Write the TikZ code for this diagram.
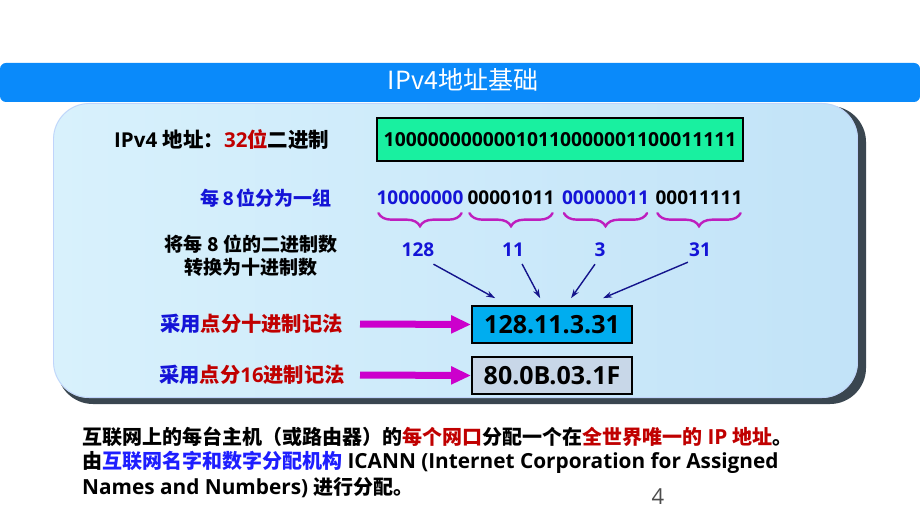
\documentclass[tikz,border=0pt]{standalone}
\usepackage{fontspec}
\setmainfont{Open Sans}
\newfontfamily\cjk{Noto Sans CJK SC}
\usetikzlibrary{arrows.meta,decorations.pathreplacing,calc}
\definecolor{barblue}{RGB}{10,138,250}
\definecolor{panelA}{RGB}{216,241,252}
\definecolor{panelB}{RGB}{194,227,248}
\definecolor{shadowc}{RGB}{58,70,80}
\definecolor{mint}{RGB}{25,240,160}
\definecolor{hexfill}{RGB}{200,215,232}
\definecolor{tblue}{RGB}{20,20,215}
\definecolor{bblue}{RGB}{30,30,255}
\definecolor{dred}{RGB}{192,0,0}
\definecolor{mag}{RGB}{204,0,204}
\definecolor{bracec}{RGB}{190,30,190}
\definecolor{navy}{RGB}{20,20,140}
\newcommand\C[1]{{\cjk\fontsize{20}{24}\selectfont #1}}
\begin{document}
\begin{tikzpicture}[x=1pt,y=-1pt,
  txt/.style={inner sep=0pt, font=\fontsize{19}{23}\selectfont\bfseries},
  btxt/.style={inner sep=0pt, anchor=west, font=\fontsize{20.8}{24}\selectfont\bfseries},
  valbox/.style={draw=black, line width=1.8pt, inner sep=0pt, minimum width=160pt, minimum height=37pt, font=\fontsize{25}{29}\selectfont\bfseries},
  grp/.style={txt},
  num/.style={txt, text=tblue},
  bracest/.style={draw=bracec, line width=2.4pt, line cap=round, decorate, decoration={brace, mirror, amplitude=13pt, aspect=0.5}},
  conv/.style={draw=navy, line width=1.4pt, -{Stealth[length=9pt,width=6pt]}},
  bigarr/.style={draw=mag, line width=7pt, -{Triangle[length=20pt,width=17pt]}}
]
\useasboundingbox (0,0) rectangle (920,518);
\fill[white] (0,0) rectangle (920,518);
% panel
\fill[shadowc, rounded corners=36pt] (57,106) rectangle (866,404);
\shade[left color=panelA, right color=panelB, rounded corners=36pt] (53,103) rectangle (858,398);
\draw[rounded corners=36pt, draw=panelB!85!blue!70, line width=0.8pt] (53.5,103.5) rectangle (857.5,397.5);
% title bar
\fill[barblue, rounded corners=6pt] (0,63) rectangle (920,102);
\node[inner sep=0pt, text=white, font=\fontsize{25}{28}\selectfont\cjk] (title) at (463,80) {IPv4地址基础};

% first row
\node[txt, anchor=west, font=\fontsize{20.5}{24}\selectfont\bfseries] (lab32) at (114,140) {IPv4 {\cjk 地址：}\textcolor{dred}{32{\cjk 位}}{\cjk 二进制}};
\node[valbox, fill=mint, minimum width=366pt, minimum height=43pt, font=\fontsize{19.3}{23}\selectfont\bfseries] (bin) at (560,139.5) {10000000000010110000001100011111};

% groups
\node[txt, anchor=east, text=tblue] (lab8) at (332,198) {{\cjk 每}\,8\,{\cjk 位分为一组}};
\node[grp, text=tblue] (g1) at (420,198) {10000000};
\node[grp] (g2) at (511,198) {00001011};
\node[grp, text=tblue] (g3) at (605.5,198) {00000011};
\node[grp] (g4) at (699,198) {00011111};
\draw[bracest] ($(g1.south west)+(2,8)$) -- ($(g1.south east)+(-2,8)$);
\draw[bracest] ($(g2.south west)+(2,8)$) -- ($(g2.south east)+(-2,8)$);
\draw[bracest] ($(g3.south west)+(2,8)$) -- ($(g3.south east)+(-2,8)$);
\draw[bracest] ($(g4.south west)+(2,8)$) -- ($(g4.south east)+(-2,8)$);

% numbers
\node[num] (n128) at (418,250) {128};
\node[num] (n11) at (513,250) {11};
\node[num] (n3) at (600,250) {3};
\node[num] (n31) at (700,250) {31};
\node[txt, align=center, font=\fontsize{19}{23}\selectfont\bfseries\cjk] (labconv) at (251,256) {将每 8 位的二进制数\\转换为十进制数};

% value boxes
\node[valbox, fill=cyan] (dec) at (552,324.5) {128.11.3.31};
\node[valbox, fill=hexfill] (hex) at (552,375.5) {80.0B.03.1F};

\draw[conv] ($(n128.south east)+(-1,7)$) -- ($(dec.north west)+(24,-7)$);
\draw[conv] ($(n11.south east)+(-2,7)$) -- ($(dec.north west)+(69,-7)$);
\draw[conv] ($(n3.south)+(-5,7)$) -- ($(dec.north west)+(100,-7)$);
\draw[conv] ($(n31.south west)+(-1,5)$) -- ($(dec.north west)+(132,-7)$);

% labels and big arrows
\node[txt, anchor=east, font=\fontsize{20.3}{24}\selectfont\bfseries\cjk] (labdec) at (343,324) {\textcolor{tblue}{采用}\textcolor{dred}{点分十进制记法}};
\node[txt, anchor=east, font=\fontsize{20.3}{24}\selectfont\bfseries] (labhex) at (345,375) {\textcolor{tblue}{{\cjk 采用}}\textcolor{dred}{{\cjk 点分}16{\cjk 进制记法}}};
\draw[bigarr] ($(labdec.east)+(17,0)$) -- (dec.west);
\draw[bigarr] ($(labhex.east)+(15,0)$) -- (hex.west);

% bottom text
\node[btxt] (line1) at (82,437) {\C{互联网上的每台主机（或路由器）的}\textcolor{dred}{\C{每个网口}}\C{分配一个在}\textcolor{dred}{\C{全世界唯一的} IP \C{地址}}\C{。}};
\node[btxt] (line2) at (82,462) {\C{由}\textcolor{bblue}{\C{互联网名字和数字分配机构}} ICANN (Internet Corporation for Assigned};
\node[btxt] (line3) at (82,488) {Names and Numbers) \C{进行分配。}};
\node[inner sep=0pt, text=black!70, font=\fontsize{22}{26}\selectfont] (pageno) at (658,497) {4};
\end{tikzpicture}
\end{document}
